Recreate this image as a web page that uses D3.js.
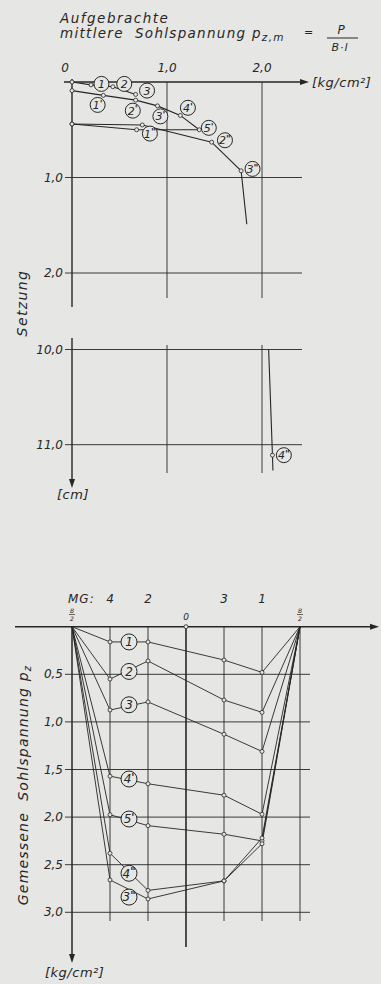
<!DOCTYPE html>
<html>
<head>
<meta charset="utf-8">
<script src="https://cdn.jsdelivr.net/npm/d3@7/dist/d3.min.js"></script>
<style>
body { margin: 0; background: #e6e6e4; }
svg { display: block; }
text { font-family: "DejaVu Sans", sans-serif; font-style: italic; fill: #262626; }
</style>
</head>
<body>
<div id="chart"></div>
<script>
// Page size (matches the window)
var w = 381;
var h = 984;
var ink = '#262626';
var paper = '#e6e6e4';

// ---- upper chart: settlement vs applied mean contact pressure ----
var loadTicks = [0, 1, 2];
var settleTicksUpper = [1, 2];
var settleTicksLower = [10, 11];

// load cycles (p in kg/cm2, s in cm)
var cycle1P = [0, 0.20, 0.43, 0.67];
var cycle1S = [0, 0.03, 0.05, 0.13];
var cycle2P = [0, 0.33, 0.67, 0.90, 1.14, 1.34, 0.68, 0];
var cycle2S = [0.09, 0.14, 0.19, 0.25, 0.35, 0.50, 0.50, 0.44];
var cycle3P = [0, 0.74, 1.47, 1.78, 1.84];
var cycle3S = [0.44, 0.45, 0.63, 0.93, 1.49];
var creepP = [2.07, 2.11, 2.115];
var creepS = [10.0, 11.11, 11.27];

var topLabels = ['1', '2', '3', "1'", "2'", "3'", "4'", "5'", '1"', '2"', '3"'];
var topLabelP = [0.31, 0.55, 0.79, 0.27, 0.64, 0.93, 1.22, 1.44, 0.82, 1.61, 1.90];
var topLabelS = [0.02, 0.02, 0.09, 0.24, 0.30, 0.36, 0.27, 0.48, 0.54, 0.61, 0.91];
var lowLabels = ['4"'];
var lowLabelP = [2.23];
var lowLabelS = [11.11];

// ---- lower chart: measured contact pressure across the footing ----
var gaugePos = [-3, -2, -1, 1, 2, 3];
var gaugeNames = ['4', '2', '3', '1'];
var gaugeNamePos = [-2, -1, 1, 2];
var pressTicks = [0.5, 1.0, 1.5, 2.0, 2.5, 3.0];
var seriesNames = ['1', '2', '3', "4'", "5'", '4"', '3"'];
var pz1 = [0, 0.16, 0.16, 0.35, 0.48, 0];
var pz2 = [0, 0.55, 0.36, 0.77, 0.90, 0];
var pz3 = [0, 0.875, 0.79, 1.13, 1.31, 0];
var pz4a = [0, 1.57, 1.65, 1.77, 1.97, 0];
var pz5a = [0, 1.975, 2.09, 2.18, 2.25, 0];
var pz4b = [0, 2.38, 2.77, 2.67, 2.22, 0];
var pz3b = [0, 2.66, 2.86, 2.67, 2.28, 0];
var seriesLabelY = [0.16, 0.47, 0.82, 1.60, 2.02, 2.59, 2.84];

var fmt = function(d) { return d3.format('.1f')(d).replace('.', ','); };

var svg = d3.select('#chart').append('svg')
	.attr('width', w)
	.attr('height', h);

svg.append('rect').attr('width', w).attr('height', h).attr('fill', paper);

// arrow head helper (tip at x,y; dir 'r' or 'd')
function arrow(x, y, dir) {
	var p = dir === 'r'
		? [[x, y], [x - 9, y - 3], [x - 9, y + 3]]
		: [[x, y], [x - 3, y - 9], [x + 3, y - 9]];
	svg.append('path').attr('d', 'M' + p.join('L') + 'Z').attr('fill', ink);
}

function line(x1, y1, x2, y2, sw) {
	svg.append('line')
		.attr('x1', x1).attr('y1', y1).attr('x2', x2).attr('y2', y2)
		.attr('stroke', ink).attr('stroke-width', sw || 1);
}

// circled label like (2') with visible primes
function tag(x, y, name, r, fs) {
	var g = svg.append('g').attr('transform', 'translate(' + x + ',' + y + ')');
	g.append('circle').attr('r', r).attr('fill', paper).attr('stroke', ink).attr('stroke-width', 1);
	var t = g.append('text').attr('text-anchor', 'middle').attr('y', fs * 0.36).attr('font-size', fs);
	t.append('tspan').text(name.charAt(0));
	if (name.length > 1) {
		t.append('tspan').attr('font-size', fs * 0.85).attr('font-weight', 'bold')
			.attr('dy', -fs * 0.2).text(name.charAt(1));
	}
}

// ================= upper chart =================
var xTop = d3.scaleLinear().domain([0, 2]).range([72, 262]);
var yUp = d3.scaleLinear().domain([0, 2]).range([82, 273]);
var yLow = d3.scaleLinear().domain([10, 11]).range([349.5, 444.7]);

// title
svg.append('text').attr('x', 60).attr('y', 23).attr('font-size', 13.5)
	.attr('letter-spacing', 1.5).text('Aufgebrachte');
var tl = svg.append('text').attr('x', 60).attr('y', 38).attr('font-size', 13.5)
	.attr('letter-spacing', 1.3).attr('xml:space', 'preserve');
tl.append('tspan').text('mittlere  Sohlspannung p');
tl.append('tspan').attr('font-size', 10.5).attr('dy', 3).text('z,m');
svg.append('text').attr('x', 304).attr('y', 36).attr('font-size', 11).text('=');
svg.append('text').attr('x', 341).attr('y', 34).attr('font-size', 12).attr('text-anchor', 'middle').text('P');
line(327, 38, 358, 38, 1);
svg.append('text').attr('x', 340).attr('y', 51).attr('font-size', 11).attr('text-anchor', 'middle')
	.attr('letter-spacing', 1).text('B·l');

// grid (upper part)
settleTicksUpper.forEach(function(s) { line(65, yUp(s), 302, yUp(s), 0.9); });
[1, 2].forEach(function(p) { line(xTop(p), yUp(0), xTop(p), 298, 0.9); });
// grid (lower part)
settleTicksLower.forEach(function(s) { line(65, yLow(s), 302, yLow(s), 0.9); });
[1, 2].forEach(function(p) { line(xTop(p), 345, xTop(p), 473, 0.9); });

// axes
line(64, yUp(0), 304, yUp(0), 1.4);
arrow(309, yUp(0), 'r');
line(xTop(0), 79, xTop(0), 307, 1.4);
line(xTop(0), 338, xTop(0), 480, 1.4);
arrow(xTop(0), 488, 'd');

// tick labels
svg.append('g').selectAll('text').data(loadTicks).enter().append('text')
	.attr('x', function(d) { return d === 0 ? xTop(d) - 7 : xTop(d); })
	.attr('y', 72).attr('font-size', 12).attr('text-anchor', 'middle')
	.text(function(d) { return d === 0 ? '0' : fmt(d); });
svg.append('g').selectAll('text').data(settleTicksUpper).enter().append('text')
	.attr('x', 63).attr('y', function(d) { return yUp(d) + 4; })
	.attr('font-size', 12).attr('text-anchor', 'end').text(fmt);
svg.append('g').selectAll('text').data(settleTicksLower).enter().append('text')
	.attr('x', 63).attr('y', function(d) { return yLow(d) + 4; })
	.attr('font-size', 12).attr('text-anchor', 'end').text(fmt);

svg.append('text').attr('x', 312).attr('y', 87).attr('font-size', 13)
	.attr('letter-spacing', 0.5).text('[kg/cm²]');
svg.append('text').attr('x', 57).attr('y', 499).attr('font-size', 13)
	.attr('letter-spacing', 0.5).text('[cm]');
svg.append('text').attr('transform', 'translate(27,303) rotate(-90)')
	.attr('font-size', 14).attr('letter-spacing', 1.4).attr('text-anchor', 'middle').text('Setzung');

// curves
var lineUp = d3.line().x(function(d) { return xTop(d[0]); }).y(function(d) { return yUp(d[1]); });
var lineLow = d3.line().x(function(d) { return xTop(d[0]); }).y(function(d) { return yLow(d[1]); });
var cycles = [d3.zip(cycle1P, cycle1S), d3.zip(cycle2P, cycle2S), d3.zip(cycle3P, cycle3S)];
var creep = d3.zip(creepP, creepS);

svg.append('g').selectAll('path').data(cycles).enter().append('path')
	.attr('d', lineUp).attr('fill', 'none').attr('stroke', ink).attr('stroke-width', 1.1);
svg.append('path').attr('d', lineLow(creep)).attr('fill', 'none').attr('stroke', ink).attr('stroke-width', 1.1);

var upPts = [].concat(cycles[0], cycles[1], cycles[2].slice(0, 4));
svg.append('g').selectAll('circle').data(upPts).enter().append('circle')
	.attr('cx', function(d) { return xTop(d[0]); }).attr('cy', function(d) { return yUp(d[1]); })
	.attr('r', 2).attr('fill', paper).attr('stroke', ink).attr('stroke-width', 0.8);
svg.append('g').selectAll('circle').data(creep.slice(1, 2)).enter().append('circle')
	.attr('cx', function(d) { return xTop(d[0]); }).attr('cy', function(d) { return yLow(d[1]); })
	.attr('r', 2).attr('fill', paper).attr('stroke', ink).attr('stroke-width', 0.8);

topLabels.forEach(function(n, i) { tag(xTop(topLabelP[i]), yUp(topLabelS[i]), n, 7.5, 11); });
lowLabels.forEach(function(n, i) { tag(xTop(lowLabelP[i]), yLow(lowLabelS[i]), n, 7.5, 11); });

// ================= lower chart =================
var xB = d3.scaleLinear().domain([-3, 3]).range([72, 300]);
var yB = d3.scaleLinear().domain([0, 3]).range([626.7, 912.3]);

// grid
pressTicks.forEach(function(v) { line(65, yB(v), 310, yB(v), 0.9); });
[-2, -1, 1, 2, 3].forEach(function(p) { line(xB(p), yB(0), xB(p), 921, 0.9); });
line(xB(0), yB(0), xB(0), 947, 1.6);

// axes
line(15, yB(0), 370, yB(0), 1.5);
arrow(379, yB(0), 'r');
line(xB(-3), yB(0), xB(-3), 955, 1.5);
arrow(xB(-3), 963, 'd');

// labels
svg.append('text').attr('x', 68).attr('y', 603).attr('font-size', 12)
	.attr('letter-spacing', 1).text('MG:');
svg.append('g').selectAll('text').data(gaugeNames).enter().append('text')
	.attr('x', function(d, i) { return xB(gaugeNamePos[i]); }).attr('y', 603)
	.attr('font-size', 12).attr('text-anchor', 'middle').text(function(d) { return d; });
svg.append('text').attr('x', xB(0)).attr('y', 620).attr('font-size', 9)
	.attr('text-anchor', 'middle').text('0');
[-3, 3].forEach(function(p) {
	svg.append('text').attr('x', xB(p)).attr('y', 613).attr('font-size', 6)
		.attr('text-anchor', 'middle').text('B');
	line(xB(p) - 3, 614.5, xB(p) + 3, 614.5, 0.7);
	svg.append('text').attr('x', xB(p)).attr('y', 620.5).attr('font-size', 6)
		.attr('text-anchor', 'middle').text('2');
});
svg.append('g').selectAll('text').data(pressTicks).enter().append('text')
	.attr('x', 63).attr('y', function(d) { return yB(d) + 4; })
	.attr('font-size', 12).attr('text-anchor', 'end').text(fmt);

svg.append('text').attr('x', 45).attr('y', 977).attr('font-size', 13)
	.attr('letter-spacing', 0.5).text('[kg/cm²]');
var yl = svg.append('text').attr('transform', 'translate(28,785) rotate(-90)')
	.attr('font-size', 14).attr('letter-spacing', 1.2).attr('text-anchor', 'middle')
	.attr('xml:space', 'preserve');
yl.append('tspan').text('Gemessene  Sohlspannung p');
yl.append('tspan').attr('font-size', 10).attr('dy', 3).text('z');

// pressure distributions
var allPz = [pz1, pz2, pz3, pz4a, pz5a, pz4b, pz3b];
var lineB = d3.line().x(function(d) { return xB(d[0]); }).y(function(d) { return yB(d[1]); });
var series = allPz.map(function(v) { return d3.zip(gaugePos, v); });

svg.append('g').selectAll('path').data(series).enter().append('path')
	.attr('d', lineB).attr('fill', 'none').attr('stroke', ink).attr('stroke-width', 0.9);
series.forEach(function(s) {
	svg.append('g').selectAll('circle').data(s.slice(1, 5)).enter().append('circle')
		.attr('cx', function(d) { return xB(d[0]); }).attr('cy', function(d) { return yB(d[1]); })
		.attr('r', 2).attr('fill', paper).attr('stroke', ink).attr('stroke-width', 0.8);
});
svg.append('circle').attr('cx', xB(0)).attr('cy', yB(0)).attr('r', 2)
	.attr('fill', paper).attr('stroke', ink).attr('stroke-width', 0.8);

seriesNames.forEach(function(n, i) { tag(xB(-1.5), yB(seriesLabelY[i]), n, 8, 12); });
</script>
</body>
</html>
